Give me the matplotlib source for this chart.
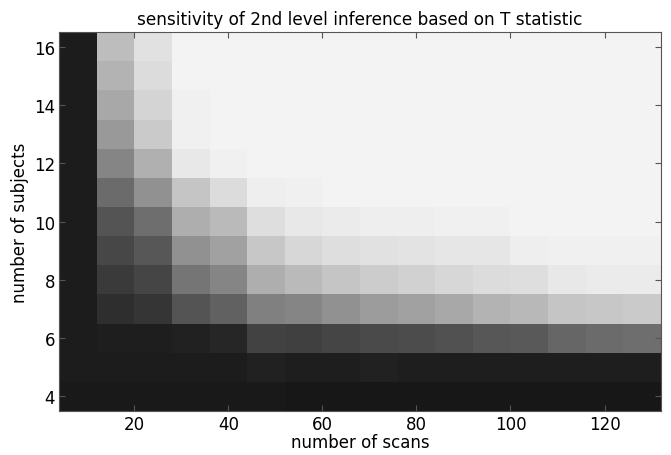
import numpy as np
import matplotlib
matplotlib.use("Agg")
import matplotlib.pyplot as plt

scans = [8, 16, 24, 32, 40, 48, 56, 64, 72, 80, 88, 96, 104, 112, 120, 128]
subjects = [4, 5, 6, 7, 8, 9, 10, 11, 12, 13, 14, 15, 16]

# sensitivity values (rows = subjects 4..16, columns = scans 8..128)
row4 = [0.10, 0.10, 0.10, 0.10, 0.10, 0.10, 0.09, 0.09, 0.09, 0.09, 0.09, 0.09, 0.09, 0.09, 0.09, 0.09]
row5 = [0.11, 0.11, 0.11, 0.11, 0.11, 0.13, 0.12, 0.12, 0.13, 0.12, 0.12, 0.12, 0.12, 0.12, 0.12, 0.12]
row6 = [0.11, 0.12, 0.12, 0.13, 0.15, 0.26, 0.25, 0.27, 0.29, 0.30, 0.32, 0.34, 0.35, 0.40, 0.42, 0.43]
row7 = [0.11, 0.18, 0.21, 0.33, 0.38, 0.50, 0.52, 0.57, 0.61, 0.63, 0.66, 0.70, 0.72, 0.77, 0.78, 0.79]
row8 = [0.11, 0.23, 0.27, 0.46, 0.52, 0.68, 0.73, 0.77, 0.80, 0.82, 0.84, 0.86, 0.87, 0.91, 0.92, 0.92]
row9 = [0.11, 0.28, 0.34, 0.57, 0.63, 0.78, 0.84, 0.87, 0.88, 0.89, 0.90, 0.90, 0.93, 0.94, 0.94, 0.94]
row10 = [0.11, 0.33, 0.43, 0.68, 0.73, 0.87, 0.91, 0.92, 0.93, 0.93, 0.94, 0.94, 0.95, 0.95, 0.95, 0.95]
row11 = [0.11, 0.42, 0.57, 0.77, 0.86, 0.93, 0.94, 0.95, 0.95, 0.95, 0.95, 0.95, 0.95, 0.95, 0.95, 0.95]
row12 = [0.11, 0.52, 0.69, 0.91, 0.94, 0.95, 0.95, 0.95, 0.95, 0.95, 0.95, 0.95, 0.95, 0.95, 0.95, 0.95]
row13 = [0.11, 0.60, 0.79, 0.94, 0.95, 0.95, 0.95, 0.95, 0.95, 0.95, 0.95, 0.95, 0.95, 0.95, 0.95, 0.95]
row14 = [0.11, 0.66, 0.83, 0.94, 0.95, 0.95, 0.95, 0.95, 0.95, 0.95, 0.95, 0.95, 0.95, 0.95, 0.95, 0.95]
row15 = [0.11, 0.70, 0.86, 0.95, 0.95, 0.95, 0.95, 0.95, 0.95, 0.95, 0.95, 0.95, 0.95, 0.95, 0.95, 0.95]
row16 = [0.11, 0.74, 0.88, 0.95, 0.95, 0.95, 0.95, 0.95, 0.95, 0.95, 0.95, 0.95, 0.95, 0.95, 0.95, 0.95]

xticks = [20, 40, 60, 80, 100, 120]
yticks = [4, 6, 8, 10, 12, 14, 16]

Z = np.array([row4, row5, row6, row7, row8, row9, row10, row11,
              row12, row13, row14, row15, row16])

fig = plt.figure(figsize=(6.71, 4.56), dpi=100)
ax = fig.add_axes([0.088, 0.0965, 0.897, 0.831])
ax.pcolormesh(scans, subjects, Z, cmap="gray", vmin=0, vmax=1, shading="nearest")
ax.set_xticks(xticks)
ax.set_yticks(yticks)
ax.tick_params(direction="in", top=True, right=True, length=4, labelsize=12,
               color="#555555", pad=3)
for s in ax.spines.values():
    s.set_color("#555555")
ax.set_xlabel("number of scans", fontsize=12, labelpad=0)
ax.set_ylabel("number of subjects", fontsize=12, labelpad=3)
ax.set_title("sensitivity of 2nd level inference based on T statistic", fontsize=12.2, pad=6)
fig.savefig("out.png", dpi=100)
